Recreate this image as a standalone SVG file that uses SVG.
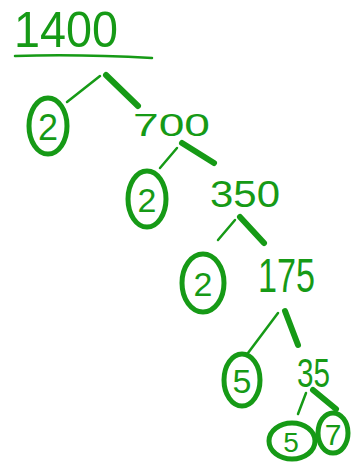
<svg xmlns="http://www.w3.org/2000/svg" width="355" height="464" viewBox="0 0 355 464">
<style>
.t{font-family:"Liberation Sans","DejaVu Sans",sans-serif;fill:#169a16}
.ring{fill:none;stroke:#169a16;stroke-width:5}
.thin{stroke:#169a16;stroke-width:2.5;stroke-linecap:round;fill:none}
.thick{stroke:#169a16;stroke-width:6;stroke-linecap:round;fill:none}
</style>
<rect width="355" height="464" fill="#fff"/>
<g id="n1400">
<text class="t" x="14" y="47" font-size="50" textLength="104" lengthAdjust="spacingAndGlyphs">1400</text>
<path class="thin" d="M15 56 Q80 54 152 58" stroke-width="3"/>
</g>
<g id="n2a"><ellipse class="ring" cx="48" cy="126" rx="19" ry="28"/><text class="t" x="48" y="140" font-size="36" text-anchor="middle">2</text></g>
<g id="n700"><text class="t" x="133" y="136" font-size="32" textLength="77" lengthAdjust="spacingAndGlyphs">700</text></g>
<g id="n2b"><ellipse class="ring" cx="147" cy="199" rx="19" ry="28"/><text class="t" x="147" y="212" font-size="34" text-anchor="middle">2</text></g>
<g id="n350"><text class="t" x="210" y="207" font-size="37" textLength="70" lengthAdjust="spacingAndGlyphs">350</text></g>
<g id="n2c"><ellipse class="ring" cx="203" cy="283" rx="21" ry="29"/><text class="t" x="203" y="296" font-size="34" text-anchor="middle">2</text></g>
<g id="n175"><text class="t" x="258" y="292" font-size="48" textLength="57" lengthAdjust="spacingAndGlyphs">175</text></g>
<g id="n5a"><ellipse class="ring" cx="242" cy="380" rx="18" ry="26"/><text class="t" x="242" y="393" font-size="34" text-anchor="middle">5</text></g>
<g id="n35"><text class="t" x="297" y="387" font-size="40" textLength="33" lengthAdjust="spacingAndGlyphs">35</text></g>
<g id="n5b"><ellipse class="ring" cx="292" cy="441" rx="23" ry="18"/><text class="t" x="291" y="452" font-size="28" text-anchor="middle">5</text></g>
<g id="n7"><ellipse class="ring" cx="333" cy="433" rx="15" ry="20"/><text class="t" x="333" y="445" font-size="30" text-anchor="middle">7</text></g>
<g id="connectors">
<line class="thin" x1="100" y1="76" x2="67" y2="102"/>
<line class="thick" x1="106" y1="75" x2="138" y2="106"/>
<line class="thin" x1="177" y1="148" x2="160" y2="168"/>
<line class="thick" x1="182" y1="143" x2="214" y2="163"/>
<line class="thin" x1="235" y1="220" x2="218" y2="240"/>
<line class="thick" x1="240" y1="217" x2="264" y2="243"/>
<line class="thin" x1="278" y1="313" x2="248" y2="353"/>
<line class="thick" x1="285" y1="311" x2="298" y2="345"/>
<line class="thin" x1="306" y1="393" x2="298" y2="414"/>
<line class="thick" x1="313" y1="390" x2="336" y2="409"/>
</g>
</svg>
